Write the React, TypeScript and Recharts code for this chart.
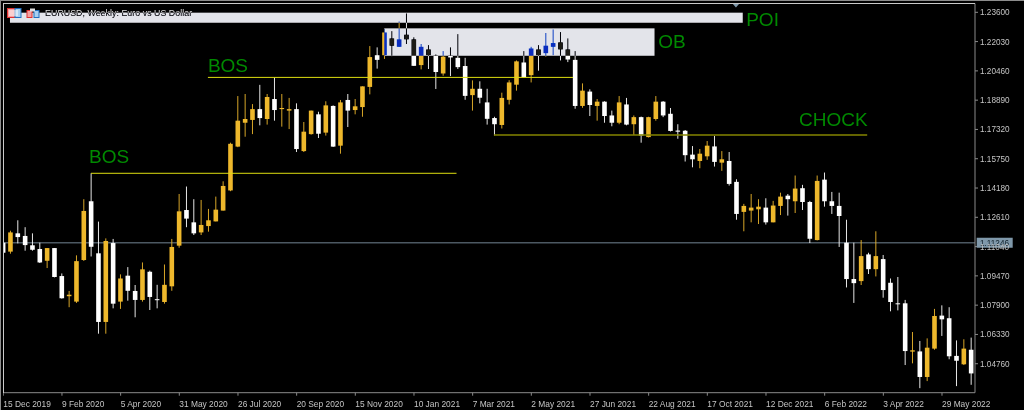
import React from 'react';
import { ComposedChart, Bar, XAxis, YAxis, ReferenceLine, ReferenceArea, ReferenceDot } from 'recharts';

const opens = [
  1.1125, 1.1077, 1.1175, 1.1161, 1.1111, 1.1091, 1.1028, 1.1096, 1.0946, 1.0838,
  1.0809, 1.1032, 1.1347, 1.1068, 1.0700, 1.1123, 1.0809, 1.0948, 1.0866, 1.0818,
  1.0969, 1.0822, 1.0807, 1.0891, 1.1109, 1.1300, 1.1234, 1.1180, 1.1214, 1.1239,
  1.1297, 1.1405, 1.1640, 1.1768, 1.1783, 1.1841, 1.1788, 1.1895, 1.1841, 1.1833,
  1.1841, 1.1616, 1.1707, 1.1813, 1.1715, 1.1858, 1.1645, 1.1890, 1.1836, 1.1852,
  1.1960, 1.2130, 1.2130, 1.2220, 1.2175, 1.2240, 1.2215, 1.2077, 1.2161, 1.2127,
  1.2032, 1.2127, 1.2116, 1.2072, 1.1916, 1.1950, 1.1877, 1.1793, 1.1756, 1.1891,
  1.1972, 1.2091, 1.2023, 1.2161, 1.2141, 1.2175, 1.2199, 1.2161, 1.2105, 1.1858,
  1.1935, 1.1858, 1.1881, 1.1807, 1.1768, 1.1866, 1.1760, 1.1798, 1.1691, 1.1788,
  1.1881, 1.1816, 1.1726, 1.1725, 1.1597, 1.1563, 1.1588, 1.1641, 1.1554, 1.1563,
  1.1451, 1.1290, 1.1297, 1.1304, 1.1313, 1.1234, 1.1322, 1.1377, 1.1347, 1.1417,
  1.1343, 1.1139, 1.1463, 1.1347, 1.1322, 1.1125, 1.0930, 1.0919, 1.1062, 1.0983,
  1.1037, 1.0910, 1.0800, 1.0800, 1.0541, 1.0542, 1.0405, 1.0557, 1.0734, 1.0720,
  1.0518, 1.0473, 1.0551,
];

const closes = [
  1.1071, 1.1180, 1.1155, 1.1112, 1.1087, 1.1019, 1.1096, 1.0941, 1.0827, 1.0846,
  1.1026, 1.1295, 1.1103, 1.0700, 1.1134, 1.0798, 1.0933, 1.0867, 1.0818, 1.0982,
  1.0834, 1.0818, 1.0899, 1.1102, 1.1293, 1.1254, 1.1175, 1.1220, 1.1245, 1.1302,
  1.1429, 1.1655, 1.1779, 1.1788, 1.1841, 1.1793, 1.1906, 1.1836, 1.1847, 1.1841,
  1.1627, 1.1720, 1.1833, 1.1709, 1.1861, 1.1640, 1.1877, 1.1833, 1.1856, 1.1963,
  1.2120, 1.2105, 1.2252, 1.2181, 1.2215, 1.2215, 1.2073, 1.2175, 1.2130, 1.2040,
  1.2122, 1.2118, 1.2066, 1.1912, 1.1950, 1.1902, 1.1789, 1.1760, 1.1901, 1.1984,
  1.2097, 1.2011, 1.2166, 1.2130, 1.2181, 1.2195, 1.2161, 1.2107, 1.1858, 1.1940,
  1.1863, 1.1881, 1.1804, 1.1768, 1.1877, 1.1758, 1.1798, 1.1699, 1.1798, 1.1881,
  1.1807, 1.1724, 1.1720, 1.1594, 1.1572, 1.1602, 1.1645, 1.1558, 1.1572, 1.1440,
  1.1279, 1.1322, 1.1313, 1.1318, 1.1234, 1.1324, 1.1372, 1.1358, 1.1415, 1.1343,
  1.1146, 1.1456, 1.1347, 1.1322, 1.1268, 1.0930, 1.0908, 1.1053, 1.0983, 1.1053,
  1.0871, 1.0807, 1.0797, 1.0544, 1.0548, 1.0405, 1.0562, 1.0732, 1.0714, 1.0516,
  1.0492, 1.0557, 1.0424,
];

const highs = [
  1.1125, 1.1189, 1.1245, 1.1208, 1.1175, 1.1125, 1.1096, 1.1096, 1.0960, 1.0866,
  1.1057, 1.1358, 1.1497, 1.1238, 1.1148, 1.1145, 1.0955, 1.0994, 1.0898, 1.1019,
  1.0975, 1.0899, 1.1008, 1.1145, 1.1386, 1.1426, 1.1358, 1.1354, 1.1306, 1.1372,
  1.1454, 1.1661, 1.1911, 1.1922, 1.1868, 1.1971, 1.1922, 1.2010, 1.1922, 1.1901,
  1.1872, 1.1772, 1.1833, 1.1827, 1.1883, 1.1861, 1.1890, 1.1922, 1.1895, 1.1963,
  1.2179, 1.2172, 1.2274, 1.2259, 1.2311, 1.2354, 1.2226, 1.2190, 1.2184, 1.2134,
  1.2152, 1.2172, 1.2243, 1.2116, 1.1995, 1.1990, 1.1950, 1.1800, 1.1929, 1.1996,
  1.2102, 1.2152, 1.2175, 1.2184, 1.2249, 1.2268, 1.2254, 1.2220, 1.2152, 1.1979,
  1.1947, 1.1895, 1.1883, 1.1833, 1.1911, 1.1901, 1.1807, 1.1801, 1.1800, 1.1911,
  1.1884, 1.1847, 1.1760, 1.1729, 1.1643, 1.1627, 1.1670, 1.1697, 1.1616, 1.1611,
  1.1465, 1.1333, 1.1386, 1.1358, 1.1363, 1.1349, 1.1393, 1.1386, 1.1485, 1.1435,
  1.1349, 1.1485, 1.1501, 1.1397, 1.1393, 1.1248, 1.1125, 1.1139, 1.1071, 1.1186,
  1.1059, 1.0933, 1.0941, 1.0818, 1.0646, 1.0598, 1.0612, 1.0770, 1.0789, 1.0779,
  1.0601, 1.0607, 1.0616,
];

const lows = [
  1.1071, 1.1066, 1.1121, 1.1082, 1.1082, 1.1016, 1.0989, 1.0939, 1.0825, 1.0779,
  1.0802, 1.1027, 1.1051, 1.0637, 1.0637, 1.0773, 1.0770, 1.0814, 1.0725, 1.0809,
  1.0764, 1.0773, 1.0798, 1.0867, 1.1098, 1.1208, 1.1166, 1.1166, 1.1184, 1.1239,
  1.1297, 1.1401, 1.1637, 1.1693, 1.1707, 1.1754, 1.1758, 1.1779, 1.1747, 1.1734,
  1.1611, 1.1611, 1.1704, 1.1686, 1.1699, 1.1638, 1.1602, 1.1745, 1.1813, 1.1800,
  1.1920, 1.2058, 1.2110, 1.2125, 1.2175, 1.2190, 1.2073, 1.2054, 1.2056, 1.1949,
  1.2020, 1.2018, 1.2056, 1.1891, 1.1833, 1.1872, 1.1758, 1.1700, 1.1737, 1.1866,
  1.1940, 1.2011, 1.1984, 1.2047, 1.2122, 1.2130, 1.2102, 1.2093, 1.1843, 1.1848,
  1.1804, 1.1779, 1.1768, 1.1749, 1.1760, 1.1754, 1.1702, 1.1661, 1.1689, 1.1779,
  1.1798, 1.1721, 1.1682, 1.1560, 1.1529, 1.1524, 1.1569, 1.1533, 1.1510, 1.1431,
  1.1248, 1.1186, 1.1234, 1.1225, 1.1222, 1.1234, 1.1273, 1.1270, 1.1284, 1.1300,
  1.1123, 1.1137, 1.1318, 1.1279, 1.1102, 1.0885, 1.0802, 1.0898, 1.0957, 1.0944,
  1.0830, 1.0757, 1.0762, 1.0469, 1.0478, 1.0345, 1.0383, 1.0551, 1.0625, 1.0500,
  1.0356, 1.0469, 1.0363,
];

const dateTicks = [0, 8, 16, 24, 32, 40, 48, 56, 64, 72, 80, 88, 96, 104, 112, 120, 128];
const dateLabels = [
  '15 Dec 2019', '9 Feb 2020', '5 Apr 2020', '31 May 2020', '26 Jul 2020', '20 Sep 2020',
  '15 Nov 2020', '10 Jan 2021', '7 Mar 2021', '2 May 2021', '27 Jun 2021', '22 Aug 2021',
  '17 Oct 2021', '12 Dec 2021', '6 Feb 2022', '3 Apr 2022', '29 May 2022',
];
const priceTicks = [
  1.236, 1.2203, 1.2046, 1.1889, 1.1732, 1.1575, 1.1418, 1.1261, 1.1104, 1.0947, 1.079, 1.0633, 1.0476,
];

const lastPrice = 1.11246;

const rows = opens.map((open, index) => ({
  index,
  open,
  close: closes[index],
  high: highs[index],
  low: lows[index],
}));

const GOLD = '#eeb82c';
const FONT = '"Liberation Sans", Arial, sans-serif';
const GREEN = '#008a00';
const BOX = '#e3e4ea';

// MT5 draws filled objects in xor style, difference blending gives the same blue/black look
const blendBox = (props: any) => (
  <rect
    x={props.x}
    y={props.y}
    width={props.width}
    height={props.height}
    fill={BOX}
    style={{ mixBlendMode: 'difference' }}
  />
);

const Candle = (props: any) => {
  const { x, y, width, height, payload } = props;
  const span = payload.high - payload.low || 0.0001;
  const top = Math.max(payload.open, payload.close);
  const bottom = Math.min(payload.open, payload.close);
  const bodyTop = y + ((payload.high - top) / span) * height;
  const bodyH = Math.max(((top - bottom) / span) * height, 1);
  const color = payload.close >= payload.open ? GOLD : '#ffffff';
  const mid = x + width / 2;
  return (
    <g>
      <line x1={mid} x2={mid} y1={y} y2={y + height} stroke={color} strokeWidth={0.9} />
      <rect x={mid - 2.3} y={bodyTop} width={4.6} height={bodyH} fill={color} />
    </g>
  );
};

const DateTick = (props: any) => {
  const { x, y, payload } = props;
  const label = dateLabels[dateTicks.indexOf(payload.value)];
  return (
    <text x={x} y={y + 9} textAnchor="start" fontFamily={FONT} fontSize={8.4} fill="#c4c4c4">
      {label}
    </text>
  );
};

const tag = (text: string) => (props: any) => (
  <text x={props.cx} y={props.cy} fontFamily={FONT} fontSize={19} fill={GREEN}>
    {text}
  </text>
);

const titleText = (props: any) => (
  <text x={props.cx} y={props.cy} fontFamily={FONT} fontSize={8.8} fill="#e0e0e0" textLength={147}>
    EURUSD, Weekly:  Euro vs US Dollar
  </text>
);

const priceBadge = (props: any) => (
  <g>
    <rect x={props.cx + 1.7} y={props.cy - 5} width={36} height={10} fill="#7f98aa" />
    <text x={props.cx + 5} y={props.cy + 3} fontFamily={FONT} fontSize={8.2} fill="#10202a">
      {lastPrice.toFixed(5)}
    </text>
  </g>
);

const marker = (props: any) => (
  <path d={`M${props.cx - 3.5} ${props.cy} h7 l-3.5 4 z`} fill="#7f98aa" />
);

const App = () => {
  return (
    <div style={{ position: 'absolute', left: 0, top: 0, width: 1024, height: 410, background: '#000', overflow: 'hidden' }}>
      <ComposedChart
        width={1024}
        height={410}
        data={rows}
        margin={{ top: 3.5, right: 0, left: 3.3, bottom: 0 }}
        style={{ background: '#000', isolation: 'isolate' }}
      >
        <XAxis
          dataKey="index"
          type="number"
          domain={[0, 132.5]}
          ticks={dateTicks}
          interval={0}
          height={17.3}
          stroke="#8a8a8a"
          tickSize={3}
          tick={<DateTick />}
          allowDataOverflow
        />
        <YAxis
          orientation="right"
          type="number"
          domain={[1.03207, 1.24072]}
          ticks={priceTicks}
          interval={0}
          width={49}
          stroke="#8a8a8a"
          tickSize={3}
          tickMargin={2}
          tickFormatter={(v: number) => v.toFixed(5)}
          tick={{ fontFamily: FONT, fontSize: 8.2, fill: '#c4c4c4' }}
          allowDataOverflow
        />
        <ReferenceDot x={5.7} y={1.2338} r={0} ifOverflow="visible" shape={titleText} zIndex={350} />
        <ReferenceLine y={lastPrice} stroke="#4c5862" strokeWidth={1.5} zIndex={200} />
        <Bar dataKey={(d: any) => [d.low, d.high]} barSize={5} isAnimationActive={false} shape={<Candle />} zIndex={300} />
        <ReferenceArea x1={0.91} x2={100.83} y1={1.2304} y2={1.2358} shape={blendBox} ifOverflow="visible" zIndex={400} />
        <ReferenceArea x1={51.95} x2={88.8} y1={1.2127} y2={1.2274} shape={blendBox} ifOverflow="visible" zIndex={400} />
        <ReferenceLine segment={[{ x: 27.9, y: 1.2011 }, { x: 77.7, y: 1.2011 }]} stroke="#dede10" strokeWidth={1} zIndex={500} />
        <ReferenceLine segment={[{ x: 11.96, y: 1.1497 }, { x: 61.8, y: 1.1497 }]} stroke="#dede10" strokeWidth={1} zIndex={500} />
        <ReferenceLine segment={[{ x: 66.9, y: 1.1702 }, { x: 117.8, y: 1.1702 }]} stroke="#848400" strokeWidth={1.4} zIndex={500} />
        <ReferenceDot x={27.9} y={1.2042} r={0} ifOverflow="visible" shape={tag('BOS')} zIndex={600} />
        <ReferenceDot x={11.7} y={1.1553} r={0} ifOverflow="visible" shape={tag('BOS')} zIndex={600} />
        <ReferenceDot x={89.3} y={1.2170} r={0} ifOverflow="visible" shape={tag('OB')} zIndex={600} />
        <ReferenceDot x={101.3} y={1.2288} r={0} ifOverflow="visible" shape={tag('POI')} zIndex={600} />
        <ReferenceDot x={108.5} y={1.1752} r={0} ifOverflow="visible" shape={tag('CHOCK')} zIndex={600} />
        <ReferenceDot x={132.5} y={lastPrice} r={0} ifOverflow="visible" shape={priceBadge} zIndex={600} />
        <ReferenceDot x={99.9} y={1.2407} r={0} ifOverflow="visible" shape={marker} zIndex={600} />
      </ComposedChart>
      {/* terminal frame and the two toolbar icons */}
      <div style={{ position: 'absolute', left: 0, top: 0, width: 3, height: 410, background: '#000' }} />
      <div style={{ position: 'absolute', left: 0, top: 0, width: 1024, height: 3, background: '#000' }} />
      <div style={{ position: 'absolute', left: 0, top: 0, width: 1024, height: 1, background: '#8c8c8c' }} />
      <div style={{ position: 'absolute', left: 0, top: 0, width: 1, height: 410, background: '#8c8c8c' }} />
      <div style={{ position: 'absolute', left: 3, top: 3, width: 972, height: 1, background: '#c8c8c8' }} />
      <div style={{ position: 'absolute', left: 3, top: 3, width: 1, height: 390, background: '#c8c8c8' }} />
      <svg style={{ position: 'absolute', left: 7, top: 8 }} width={34} height={11}>
        <rect x={0.5} y={0.5} width={13} height={9} fill="#f4a0a0" stroke="#e03030" />
        <rect x={8} y={0.5} width={6} height={9} fill="#a8d0f0" stroke="#2070c0" />
        <path d="M2 3 h9 M2 5 h9 M2 7 h9" stroke="#ffffff" />
        <rect x={20} y={2.5} width={5} height={7} fill="#f4a0a0" stroke="#e03030" />
        <rect x={27} y={2.5} width={5} height={7} fill="#a8d0f0" stroke="#2070c0" />
        <rect x={23} y={0.5} width={5} height={3} fill="#e0e0e0" />
      </svg>
    </div>
  );
};

export default App;
